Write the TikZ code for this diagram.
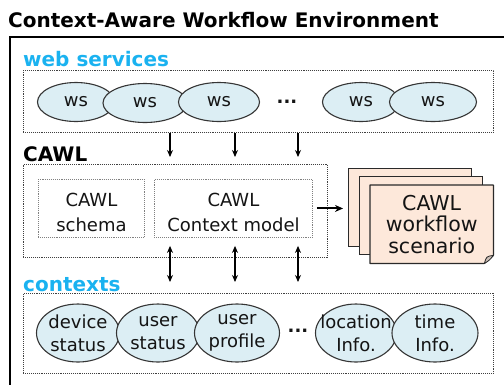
\documentclass[tikz,border=0pt]{standalone}
\usepackage{fontspec}
\setmainfont{DejaVu Sans}
\usetikzlibrary{shapes.geometric,arrows.meta,calc}
\pgfdeclarelayer{under}
\pgfsetlayers{under,main}
\definecolor{headblue}{HTML}{1AB2F0}
\definecolor{ovalfill}{HTML}{DCEEF4}
\definecolor{ovaledge}{HTML}{353535}
\definecolor{docfill}{HTML}{FDE8DA}
\definecolor{docedge}{HTML}{2A2A2A}

\begin{document}
\begin{tikzpicture}[x=1pt,y=-1pt,
  body/.style={font=\fontsize{18}{23}\selectfont, text=black!92},
  heading/.style={font=\fontsize{20}{24}\selectfont\bfseries, anchor=base west, inner sep=0pt},
  group/.style={draw=black!75, densely dotted, line width=0.9pt, anchor=north west, inner sep=0pt},
  part/.style={draw=black!50, densely dotted, line width=0.9pt, anchor=north west, inner sep=0pt},
  parttext/.style={body, font=\fontsize{18}{25}\selectfont, align=center, inner sep=0pt, anchor=north},
  oval/.style={ellipse, draw=ovaledge, fill=ovalfill, line width=1.1pt, inner sep=0pt, minimum height=39pt, body},
  ctxoval/.style={oval, minimum height=58pt},
  ctxtext/.style={body, align=center, inner sep=0pt},
  sheet/.style={draw=docedge, fill=docfill, line width=1.2pt, anchor=north west, inner sep=0pt, minimum width=123pt, minimum height=78pt},
  flow/.style={line width=1.2pt, -{Stealth[length=7pt,width=6pt]}},
  sync/.style={line width=1.2pt, {Stealth[length=7pt,width=6pt]}-{Stealth[length=7pt,width=6pt]}},
]
\useasboundingbox (0,0) rectangle (504,384);
\clip (0,0) rectangle (504,384);

% title and outer frame
\node[heading] (title) at (8,27) {Context-Aware Workflow Environment};
\draw[line width=1.5pt] (10,400) -- (10,37) -- (520,37);

% web services layer
\node[heading, text=headblue] (wslabel) at (23,66) {web services};
\node[group, minimum width=470pt, minimum height=62pt] (wsbox) at (23,70) {};
\node[oval, minimum width=77pt] (ws1) at (76,102) {ws};
\node[oval, minimum width=84pt] (ws2) at (145,103) {ws};
\node[oval, minimum width=81pt] (ws3) at (219,102) {ws};
\node[body, font=\fontsize{18}{23}\selectfont\bfseries, inner sep=0pt] (wsdots) at (287,102) {...};
\node[oval, minimum width=77pt] (ws4) at (361,102) {ws};
\node[oval, minimum width=87pt] (ws5) at (433,102) {ws};

% CAWL layer
\node[heading] (cawllabel) at (23,161) {CAWL};
\node[group, minimum width=304pt, minimum height=93pt] (cawlbox) at (23,164) {};
\node[part, minimum width=106pt, minimum height=58pt] (schema) at (38,179) {};
\node[parttext] (schematext) at ($(schema.north)+(0,14)$) {CAWL\\schema};
\node[part, minimum width=158pt, minimum height=58pt] (model) at (154,179) {};
\node[parttext] (modeltext) at ($(model.north)+(0,14)$) {CAWL\\Context model};

% contexts layer
\node[heading, text=headblue] (ctxlabel) at (23,291) {contexts};
\node[group, minimum width=470pt, minimum height=80pt] (ctxbox) at (23,293) {};
\node[ctxoval, minimum width=83pt] (dev) at (78,333) {};
\node[ctxtext] (devtext) at (dev.center) {device\\status};
\node[ctxoval, minimum width=83pt] (ust) at (158,333) {};
\node[ctxtext] (usttext) at (ust.center) {user\\status};
\node[ctxoval, minimum width=85pt] (upr) at (237,333) {};
\node[ctxtext] (uprtext) at (upr.center) {user\\profile};
\node[body, font=\fontsize{18}{23}\selectfont\bfseries, inner sep=0pt] (ctxdots) at (298,331) {...};
\node[ctxoval, minimum width=81pt] (loc) at (356,333) {};
\node[ctxtext] (loctext) at (loc.center) {location\\Info.};
\node[ctxoval, minimum width=86pt] (tim) at (435,333) {};
\node[ctxtext] (timtext) at (tim.center) {time\\Info.};

% workflow scenario documents
\node[anchor=north west, inner sep=0pt, minimum width=123pt, minimum height=78pt] (scenario) at (370,185) {};
\node[body, font=\fontsize{20.5}{21.5}\selectfont, align=center, inner sep=0pt, anchor=north] (scenariotext)
  at ($(scenario.north)+(0,10)$) {CAWL\\workflow\\scenario};
\begin{pgfonlayer}{under}
  \node[sheet] (sheetA) at (348,168) {};
  \node[sheet] (sheetB) at (359,176) {};
  \filldraw[draw=docedge, fill=docfill, line width=1.2pt, line join=round]
    (scenario.north west) -- (scenario.north east)
    -- ($(scenario.south east)+(0,-8)$) -- ($(scenario.south east)+(-9,0)$)
    -- (scenario.south west) -- cycle;
  \filldraw[draw=docedge, fill=docfill!60!gray, line width=0.8pt, line join=round]
    ($(scenario.south east)+(0,-8)$) .. controls ($(scenario.south east)+(-7,-7)$) .. ($(scenario.south east)+(-9,0)$)
    .. controls ($(scenario.south east)+(-4,-3)$) .. cycle;
\end{pgfonlayer}

% connectors
\coordinate (xa) at (170,0);
\coordinate (xb) at (235,0);
\coordinate (xc) at (298,0);
\foreach \c in {xa,xb,xc}{
  \draw[flow, shorten >=7pt] (wsbox.south -| \c) -- (cawlbox.north -| \c);
  \draw[sync, shorten <=8pt, shorten >=11pt] (model.south -| \c) -- (ctxbox.north -| \c);
}
\draw[line width=2pt, -{Stealth[length=8pt,width=7pt]}, shorten <=4pt, shorten >=5pt]
  (model.east) -- (sheetA.west |- model.east);
\end{tikzpicture}
\end{document}
